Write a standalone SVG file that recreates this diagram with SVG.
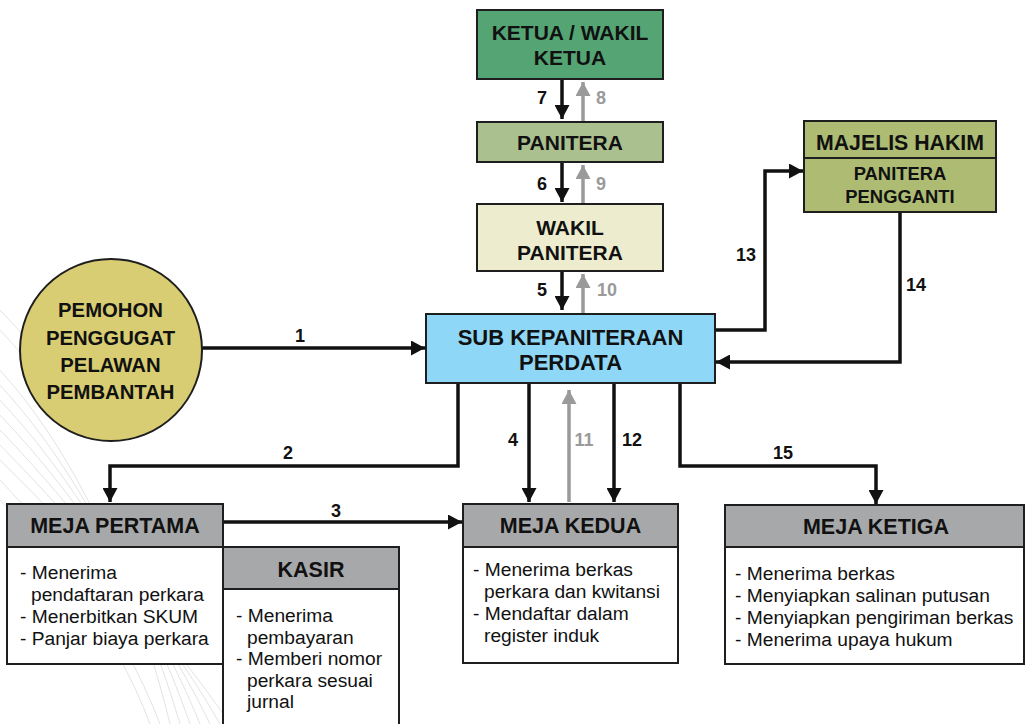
<svg xmlns="http://www.w3.org/2000/svg" width="1025" height="724" viewBox="0 0 1025 724">
<defs>
<marker id="ah" markerUnits="userSpaceOnUse" markerWidth="15" markerHeight="15" refX="14" refY="7.5" orient="auto"><path d="M0,0 L14,7.5 L0,15 z" fill="#111"/></marker>
<marker id="ahg" markerUnits="userSpaceOnUse" markerWidth="15" markerHeight="15" refX="14" refY="7.5" orient="auto"><path d="M0,0 L14,7.5 L0,15 z" fill="#9a9a9a"/></marker>
<style>
.b{stroke:#1e1e1e;stroke-width:2}
.t{font-family:"Liberation Sans",Arial,sans-serif;font-weight:bold;fill:#111;text-anchor:middle}
.n{font-family:"Liberation Sans",Arial,sans-serif;font-size:19.2px;fill:#111}
.c{fill:none;stroke:#111;stroke-width:3.5;marker-end:url(#ah)}
.g{fill:none;stroke:#9a9a9a;stroke-width:3.5;marker-end:url(#ahg)}
.l{font-family:"Liberation Sans",Arial,sans-serif;font-weight:bold;font-size:18px;fill:#111;text-anchor:middle}
.lg{fill:#9a9a9a}
.w{fill:none;stroke:#dcdcdc;stroke-width:0.8}
</style>
</defs>
<rect width="1025" height="724" fill="#fff"/>
<g id="watermark">
<path class="w" d="M-10,360 C60,430 130,560 170,724"/>
<path class="w" d="M-10,375 C60,445 135,570 180,724"/>
<path class="w" d="M-10,390 C60,460 140,580 190,724"/>
<path class="w" d="M-10,405 C60,475 145,590 200,724"/>
<path class="w" d="M-10,420 C60,490 150,600 210,724"/>
<path class="w" d="M-10,435 C60,505 155,610 220,724"/>
<path class="w" d="M-10,450 C60,520 160,620 230,724"/>
<path class="w" d="M-10,470 C50,530 120,620 160,724"/>
<path class="w" d="M-10,490 C50,550 115,630 150,724"/>
<path class="w" d="M-10,300 C40,350 60,380 80,420"/>
<path class="w" d="M-10,320 C30,360 50,390 70,430"/>
</g>
<g id="connectors">
<path class="c" d="M202,348 H425"/>
<path class="c" d="M458,383 V466 H110 V502"/>
<path class="c" d="M223,522 H462"/>
<path class="c" d="M529,383 V502"/>
<path class="g" d="M569,502 V390"/>
<path class="c" d="M614,383 V502"/>
<path class="c" d="M680,383 V466 H876 V504"/>
<path class="c" d="M562,79 V119"/>
<path class="g" d="M583,121 V82"/>
<path class="c" d="M562,162 V202"/>
<path class="g" d="M583,203 V165"/>
<path class="c" d="M562,271 V310"/>
<path class="g" d="M583,313 V274"/>
<path class="c" d="M715,330 H765 V171 H803"/>
<path class="c" d="M900,212 V362 H716"/>
<text class="l" x="300" y="342">1</text>
<text class="l" x="288" y="459">2</text>
<text class="l" x="336" y="517">3</text>
<text class="l" x="513" y="446">4</text>
<text class="l lg" x="584" y="446">11</text>
<text class="l" x="632" y="446">12</text>
<text class="l" x="783" y="459">15</text>
<text class="l" x="542" y="104">7</text>
<text class="l lg" x="601" y="104">8</text>
<text class="l" x="542" y="190">6</text>
<text class="l lg" x="601" y="190">9</text>
<text class="l" x="542" y="296">5</text>
<text class="l lg" x="607" y="296">10</text>
<text class="l" x="746" y="261">13</text>
<text class="l" x="916" y="291">14</text>
</g>
<g id="ketua">
<rect class="b" x="477" y="10" width="186" height="69" fill="#54a474"/>
<text class="t" x="570" y="40" font-size="21">KETUA / WAKIL</text>
<text class="t" x="570" y="65" font-size="21">KETUA</text>
</g>
<g id="panitera">
<rect class="b" x="477" y="122" width="186" height="40" fill="#abc08f"/>
<text class="t" x="570" y="150" font-size="21">PANITERA</text>
</g>
<g id="wakil-panitera">
<rect class="b" x="477" y="204" width="186" height="67" fill="#edecce"/>
<text class="t" x="570" y="235" font-size="21">WAKIL</text>
<text class="t" x="570" y="260" font-size="21">PANITERA</text>
</g>
<g id="sub-kepaniteraan">
<rect class="b" x="426" y="314" width="289" height="69" fill="#8fd7f6"/>
<text class="t" x="570.5" y="345" font-size="22">SUB KEPANITERAAN</text>
<text class="t" x="570.5" y="370" font-size="22">PERDATA</text>
</g>
<g id="majelis-hakim">
<rect class="b" x="804" y="121" width="192" height="91" fill="#adbc72"/>
<line class="b" x1="804" y1="158" x2="996" y2="158"/>
<text class="t" x="900" y="150" font-size="21.3">MAJELIS HAKIM</text>
<text class="t" x="900" y="180" font-size="18.4">PANITERA</text>
<text class="t" x="900" y="203" font-size="18.4">PENGGANTI</text>
</g>
<g id="pemohon">
<circle class="b" cx="111" cy="350" r="91" fill="#d8cd72"/>
<text class="t" x="110.5" y="317" font-size="20.3">PEMOHON</text>
<text class="t" x="110.5" y="345" font-size="20.3">PENGGUGAT</text>
<text class="t" x="110.5" y="372" font-size="20.3">PELAWAN</text>
<text class="t" x="110.5" y="399" font-size="20.3">PEMBANTAH</text>
</g>
<g id="meja-pertama">
<rect class="b" x="7" y="504" width="216" height="160" fill="#fff"/>
<rect class="b" x="7" y="504" width="216" height="43" fill="#a7a8aa"/>
<text class="t" x="115" y="533" font-size="21.5">MEJA PERTAMA</text>
<text class="n" x="20" y="579">- Menerima</text>
<text class="n" x="31" y="601">pendaftaran perkara</text>
<text class="n" x="20" y="623">- Menerbitkan SKUM</text>
<text class="n" x="20" y="645">- Panjar biaya perkara</text>
</g>
<g id="kasir">
<rect class="b" x="223" y="547" width="176" height="190" fill="#fff"/>
<rect class="b" x="223" y="547" width="176" height="42" fill="#a7a8aa"/>
<text class="t" x="311" y="577" font-size="21.5">KASIR</text>
<text class="n" x="236" y="622">- Menerima</text>
<text class="n" x="247" y="643.5">pembayaran</text>
<text class="n" x="236" y="665">- Memberi nomor</text>
<text class="n" x="247" y="686.5">perkara sesuai</text>
<text class="n" x="247" y="708">jurnal</text>
</g>
<g id="meja-kedua">
<rect class="b" x="463" y="504" width="215" height="159" fill="#fff"/>
<rect class="b" x="463" y="504" width="215" height="43" fill="#a7a8aa"/>
<text class="t" x="570.5" y="533" font-size="21.5">MEJA KEDUA</text>
<text class="n" x="473" y="576">- Menerima berkas</text>
<text class="n" x="484" y="598">perkara dan kwitansi</text>
<text class="n" x="473" y="620">- Mendaftar dalam</text>
<text class="n" x="484" y="642">register induk</text>
</g>
<g id="meja-ketiga">
<rect class="b" x="725" y="505" width="299" height="159" fill="#fff"/>
<rect class="b" x="725" y="505" width="299" height="42" fill="#a7a8aa"/>
<text class="t" x="876" y="534" font-size="21.5">MEJA KETIGA</text>
<text class="n" x="735" y="580">- Menerima berkas</text>
<text class="n" x="735" y="602">- Menyiapkan salinan putusan</text>
<text class="n" x="735" y="624">- Menyiapkan pengiriman berkas</text>
<text class="n" x="735" y="646">- Menerima upaya hukum</text>
</g>
</svg>
